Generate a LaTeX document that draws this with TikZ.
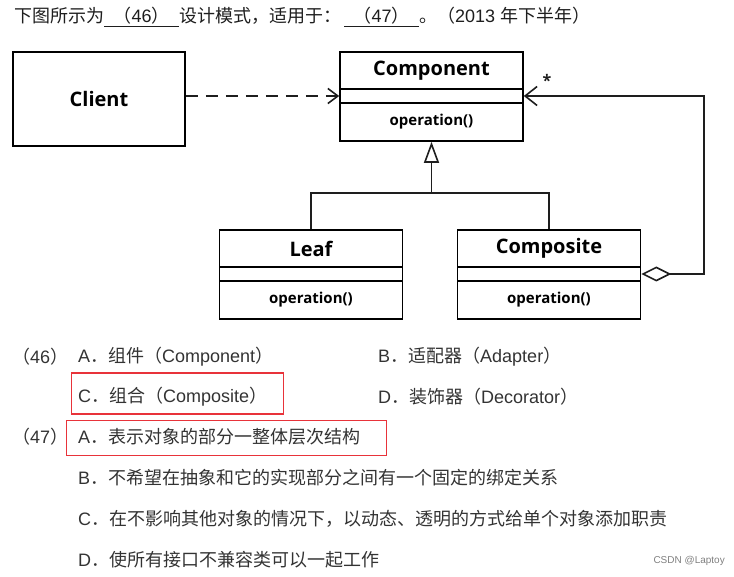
\documentclass[tikz,border=0pt]{standalone}
\usepackage{fontspec}
\setmainfont{Liberation Sans}
\newfontfamily\cjk{Noto Sans CJK SC}
\newfontfamily\uml{Open Sans}
\usetikzlibrary{matrix,positioning,arrows.meta,fit}
\definecolor{ink}{HTML}{1E1E1E}
\definecolor{textgray}{HTML}{333333}
\definecolor{boxred}{HTML}{E8333A}
\newcommand{\zh}[1]{{\cjk #1}}

\begin{document}
\begin{tikzpicture}[x=1pt,y=-1pt]

\tikzset{class box/.style={
    matrix of nodes,
    line width=1.6pt,
    row sep=-1.6pt,
    nodes={draw,
      line width=1.6pt,
      text width=#1,
      align=center,
      anchor=center,
      inner sep=0pt
    },
    row 1/.style={nodes={minimum height=37pt, font=\uml\bfseries\fontsize{20}{22}\selectfont}},
    row 2/.style={nodes={minimum height=14pt}},
    row 3/.style={nodes={minimum height=38pt, font=\uml\bfseries\fontsize{15}{18}\selectfont}},
  },
  class box/.default=183pt,
  opt/.style={anchor=west, inner sep=0pt, text=textgray, font=\fontsize{18}{21}\selectfont},
  picked/.style={draw=boxred, line width=1.3pt, anchor=west, minimum height=#1},
  uml line/.style={line width=1.6pt, ink}
}

\useasboundingbox (0,0) rectangle (734,577);

% question
\node[anchor=west, inner sep=0pt, text=ink, font=\fontsize{18}{21}\selectfont] (title) at (14,17)
  {\zh{下图所示为}\underline{\makebox[75pt]{\zh{（}46\zh{）}}}\zh{设计模式，适用于：}%
   \hspace{3pt}\underline{\makebox[75pt]{\zh{（}47\zh{）}}}\zh{。（}2013 \zh{年下半年）}};

% classes
\node[draw, line width=1.6pt, minimum width=172pt, minimum height=94pt,
  font=\uml\bfseries\fontsize{20}{22}\selectfont] (client) at (99,99) {Client};

\matrix[class box] (comp) at (431.5,96.5)
{
Component \\
\phantom{} \\
operation() \\
};

\matrix[class box] (leaf) at (311,274.5)
{
Leaf \\
\phantom{} \\
operation() \\
};

\matrix[class box] (compo) at (549,274.5)
{
Composite \\
\phantom{} \\
operation() \\
};

\coordinate (join) at (comp-3-1.south |- 0,193);
\path (comp-2-1.east) ++(180,0) coordinate (loop);

\draw [uml line, dashed, dash pattern=on 12pt off 8pt, -{Straight Barb[length=10pt,width=15pt]}]
  (client.east |- comp-2-1.west) -- (comp-2-1.west);
\draw [uml line, -{Triangle[open,length=21pt,width=15pt]}] (join) -- (comp-3-1.south);
\draw [uml line] (leaf-1-1.north) |- (join) -| (compo-1-1.north);
\draw [uml line, {Diamond[open,length=30pt,width=15pt]}-{Straight Barb[length=12pt,width=19pt]}]
  (compo-2-1.east) -| (loop) -- (comp-2-1.east);
\node[font=\uml\bfseries\fontsize{16}{18}\selectfont, text=ink] (many) at (547,80) {*};

% options
\node[opt] (q46) at (12,357) {\zh{（}46\zh{）}};
\node[opt] (a46) at (78,357) {A\zh{．组件（}Component\zh{）}};
\node[opt] (b46) at (378,357) {B\zh{．适配器（}Adapter\zh{）}};
\node[opt] (c46) at (78,397) {C\zh{．组合（}Composite\zh{）}};
\node[opt] (d46) at (378,397) {D\zh{．装饰器（}Decorator\zh{）}};
\node[picked=41pt, minimum width=212pt] (pick46) at (71,393.5) {};

\node[opt] (q47) at (12,437) {\zh{（}47\zh{）}};
\node[opt] (a47) at (78,437) {A\zh{．表示对象的部分一整体层次结构}};
\node[opt] (b47) at (78,478) {B\zh{．不希望在抽象和它的实现部分之间有一个固定的绑定关系}};
\node[opt] (c47) at (78,519) {C\zh{．在不影响其他对象的情况下，以动态、透明的方式给单个对象添加职责}};
\node[opt] (d47) at (78,560) {D\zh{．使所有接口不兼容类可以一起工作}};
\node[picked=35pt, minimum width=320pt] (pick47) at (66,438) {};

\node[anchor=east, inner sep=0pt, text=gray, font=\fontsize{10}{12}\selectfont] (mark) at (725,561) {CSDN @Laptoy};

\end{tikzpicture}
\end{document}
